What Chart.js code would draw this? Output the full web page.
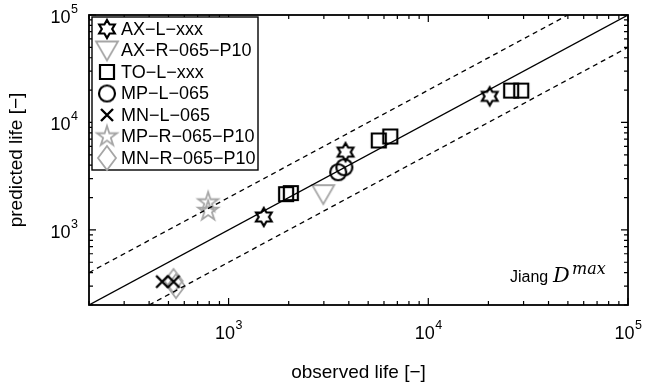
<!DOCTYPE html>
<html>
<head>
<meta charset="utf-8">
<script src="https://cdn.jsdelivr.net/npm/chart.js@4/dist/chart.umd.min.js"></script>
<style>
html,body{margin:0;padding:0;background:#fff;}
#c{display:block;}
</style>
</head>
<body>
<canvas id="c" width="645" height="387"></canvas>
<script>
// ---- data (observed life, predicted life) ----
const seriesNames = ['AX\u2212L\u2212xxx','AX\u2212R\u2212065\u2212P10','TO\u2212L\u2212xxx','MP\u2212L\u2212065','MN\u2212L\u2212065','MP\u2212R\u2212065\u2212P10','MN\u2212R\u2212065\u2212P10'];
const AX_L_obs  = [1500, 3850, 20300];
const AX_L_pred = [1320, 5300, 17500];
const AX_R_obs  = [2980];
const AX_R_pred = [2150];
const TO_L_obs  = [1940, 2050, 5650, 6450, 26000, 29200];
const TO_L_pred = [2150, 2200, 6800, 7400, 19800, 19800];
const MP_L_obs  = [3540, 3800];
const MP_L_pred = [3440, 3830];
const MN_L_obs  = [465, 530];
const MN_L_pred = [330, 330];
const MP_R_obs  = [790, 790];
const MP_R_pred = [1800, 1500];
const MN_R_obs  = [530, 545];
const MN_R_pred = [335, 300];
// reference lines
const lineEqual = [[200,200],[100000,100000]];
const lineUpper = [[200,400],[50000,100000]];
const lineLower = [[400,200],[100000,50000]];
// axis
const axisMin = 200, axisMax = 100000;
const tickExponents = [3,4,5];
const xTitle = 'observed life [\u2212]';
const yTitle = 'predicted life [\u2212]';

const BLACK = '#000000', GRAY = '#a6a6a6';

function pts(xs, ys){ return xs.map((x,i)=>({x:x, y:ys[i]})); }
function linePts(a){ return a.map(p=>({x:p[0], y:p[1]})); }

function makeMarker(type, color, lw){
  const S = 30;
  const cv = document.createElement('canvas');
  cv.width = S; cv.height = S;
  const g = cv.getContext('2d');
  g.translate(S/2, S/2);
  g.strokeStyle = color; g.lineWidth = lw; g.lineJoin = 'miter';
  g.beginPath();
  if (type === 'hexagram'){
    const R = 9, r = R/Math.sqrt(3);
    for (let i=0;i<12;i++){
      const a = -Math.PI/2 + i*Math.PI/6;
      const rr = (i%2===0)?R:r;
      const x = rr*Math.cos(a), y = rr*Math.sin(a);
      if(i===0) g.moveTo(x,y); else g.lineTo(x,y);
    }
    g.closePath();
  } else if (type === 'star5'){
    const R = 10.5, r = R*0.382;
    for (let i=0;i<10;i++){
      const a = -Math.PI/2 + i*Math.PI/5;
      const rr = (i%2===0)?R:r;
      const x = rr*Math.cos(a), y = rr*Math.sin(a);
      if(i===0) g.moveTo(x,y); else g.lineTo(x,y);
    }
    g.closePath();
  } else if (type === 'triDown'){
    g.moveTo(-11,-9); g.lineTo(11,-9); g.lineTo(0,10); g.closePath();
  } else if (type === 'square'){
    g.rect(-7,-7,14,14);
  } else if (type === 'circle'){
    g.arc(0,0,8,0,Math.PI*2);
  } else if (type === 'cross'){
    g.moveTo(-6,-6); g.lineTo(6,6); g.moveTo(6,-6); g.lineTo(-6,6);
  } else if (type === 'diamond'){
    g.moveTo(0,-12); g.lineTo(9,0); g.lineTo(0,12); g.lineTo(-9,0); g.closePath();
  }
  g.stroke();
  return cv;
}

const markers = [
  makeMarker('hexagram', BLACK, 2.2),
  makeMarker('triDown', GRAY, 1.8),
  makeMarker('square', BLACK, 2.2),
  makeMarker('circle', BLACK, 2.2),
  makeMarker('cross', BLACK, 2.4),
  makeMarker('star5', GRAY, 1.8),
  makeMarker('diamond', GRAY, 1.8)
];

const seriesData = [
  pts(AX_L_obs, AX_L_pred),
  pts(AX_R_obs, AX_R_pred),
  pts(TO_L_obs, TO_L_pred),
  pts(MP_L_obs, MP_L_pred),
  pts(MN_L_obs, MN_L_pred),
  pts(MP_R_obs, MP_R_pred),
  pts(MN_R_obs, MN_R_pred)
];

const datasets = [
  {label:'equal', data: linePts(lineEqual), showLine:true, borderColor:BLACK, borderWidth:1.3, pointRadius:0, fill:false},
  {label:'upper', data: linePts(lineUpper), showLine:true, borderColor:BLACK, borderWidth:1.3, borderDash:[5,4], pointRadius:0, fill:false},
  {label:'lower', data: linePts(lineLower), showLine:true, borderColor:BLACK, borderWidth:1.3, borderDash:[5,4], pointRadius:0, fill:false}
];
seriesData.forEach((d,i)=>{
  datasets.push({label: seriesNames[i], data: d, showLine:false, pointStyle: markers[i], pointRadius: 10, pointHoverRadius: 10});
});

const decorPlugin = {
  id: 'decor',
  afterDraw(chart){
    const ctx = chart.ctx, a = chart.chartArea;
    const xs = chart.scales.x, ys = chart.scales.y;
    ctx.save();
    // frame
    ctx.strokeStyle = BLACK; ctx.lineWidth = 1.8;
    ctx.strokeRect(a.left, a.top, a.right - a.left, a.bottom - a.top);
    // ticks
    ctx.lineWidth = 1.2;
    ctx.beginPath();
    for (let e=2;e<=5;e++){
      for (let m=1;m<=9;m++){
        const v = m*Math.pow(10,e);
        if (v < axisMin - 1e-9 || v > axisMax + 1e-9) continue;
        const L = (m===1)?7:4;
        const px = xs.getPixelForValue(v);
        ctx.moveTo(px, a.bottom); ctx.lineTo(px, a.bottom - L);
        ctx.moveTo(px, a.top); ctx.lineTo(px, a.top + L);
        const py = ys.getPixelForValue(v);
        ctx.moveTo(a.left, py); ctx.lineTo(a.left + L, py);
        ctx.moveTo(a.right, py); ctx.lineTo(a.right - L, py);
      }
    }
    ctx.stroke();
    // tick labels
    ctx.fillStyle = BLACK;
    const baseFont = '18px "Liberation Sans", Arial, sans-serif';
    const supFont = '12.5px "Liberation Sans", Arial, sans-serif';
    tickExponents.forEach(e=>{
      const v = Math.pow(10,e);
      ctx.font = baseFont; const w1 = ctx.measureText('10').width;
      ctx.font = supFont; const w2 = ctx.measureText(String(e)).width;
      // x axis
      const px = xs.getPixelForValue(v);
      const x0 = px - (w1 + w2)/2;
      ctx.textAlign = 'left'; ctx.textBaseline = 'alphabetic';
      ctx.font = baseFont; ctx.fillText('10', x0, 339);
      ctx.font = supFont; ctx.fillText(String(e), x0 + w1 + 0.5, 329);
      // y axis
      const py = ys.getPixelForValue(v);
      const xr = 78;
      ctx.font = baseFont; ctx.fillText('10', xr - w2 - w1 - 0.5, py + 8);
      ctx.font = supFont; ctx.fillText(String(e), xr - w2, py - 2);
    });
    // axis titles
    ctx.font = '19px "Liberation Sans", Arial, sans-serif';
    ctx.textAlign = 'center'; ctx.textBaseline = 'middle';
    ctx.fillText(xTitle, (a.left + a.right)/2, 373);
    ctx.save();
    ctx.translate(17, (a.top + a.bottom)/2);
    ctx.rotate(-Math.PI/2);
    ctx.fillText(yTitle, 0, 0);
    ctx.restore();
    // annotation
    ctx.textAlign = 'left'; ctx.textBaseline = 'alphabetic';
    ctx.font = '16px "Liberation Sans", Arial, sans-serif';
    ctx.fillText('Jiang', 510, 282);
    ctx.font = 'italic 21px "DejaVu Serif", "Liberation Serif", serif';
    ctx.fillText('D', 553, 282);
    ctx.font = 'italic 16px "DejaVu Serif", "Liberation Serif", serif';
    ctx.fillText('max', 572, 274);
    // legend
    const lx = 92, ly = 17, lw = 166, lh = 153;
    ctx.fillStyle = '#ffffff';
    ctx.fillRect(lx, ly, lw, lh);
    ctx.strokeStyle = BLACK; ctx.lineWidth = 1.4;
    ctx.strokeRect(lx, ly, lw, lh);
    ctx.fillStyle = BLACK;
    ctx.font = '18px "Liberation Sans", Arial, sans-serif';
    ctx.textBaseline = 'middle';
    seriesNames.forEach((n,i)=>{
      const cy = 29 + i*21.5;
      const m = markers[i];
      ctx.drawImage(m, 107 - m.width/2, cy - m.height/2);
      ctx.fillText(n, 121, cy + 1);
    });
    ctx.restore();
  }
};

new Chart(document.getElementById('c'), {
  type: 'scatter',
  data: { datasets: datasets },
  options: {
    responsive: false,
    devicePixelRatio: 1,
    animation: false,
    layout: { padding: { top: 15, right: 17, left: 0, bottom: 0 } },
    plugins: { legend: { display: false }, tooltip: { enabled: false } },
    scales: {
      x: { type: 'logarithmic', min: axisMin, max: axisMax,
           ticks: { display: false }, grid: { display: false }, border: { display: false },
           afterFit(s){ s.height = 82; } },
      y: { type: 'logarithmic', min: axisMin, max: axisMax,
           ticks: { display: false }, grid: { display: false }, border: { display: false },
           afterFit(s){ s.width = 89; } }
    }
  },
  plugins: [decorPlugin]
});
</script>
</body>
</html>
